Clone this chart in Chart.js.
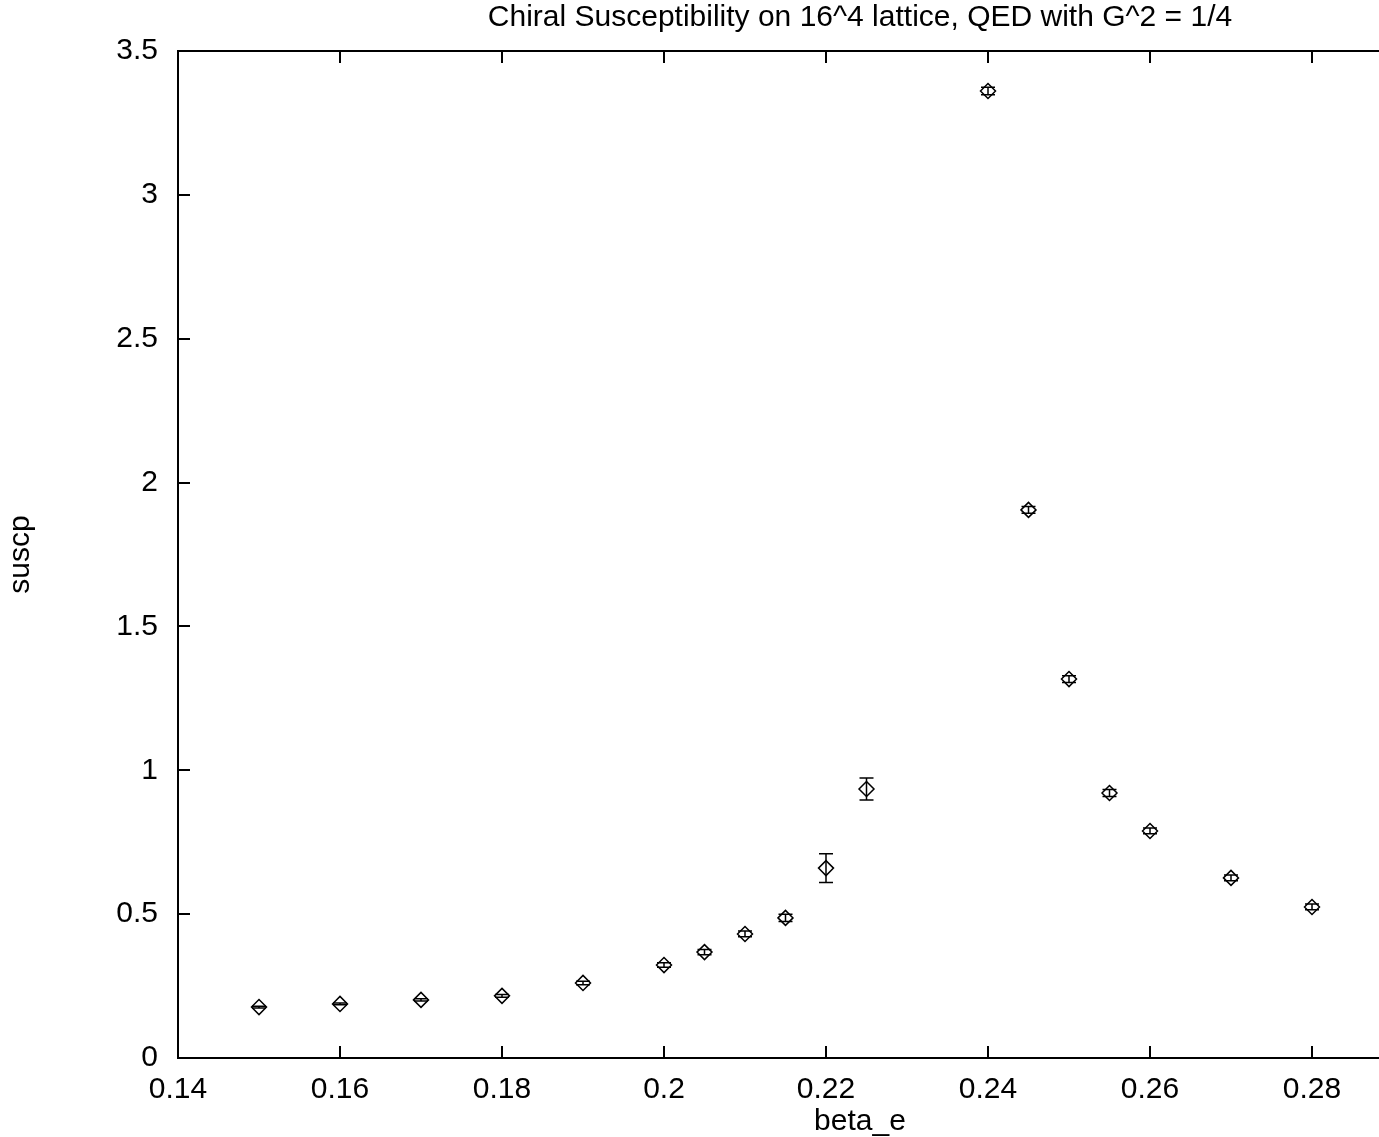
<!DOCTYPE html>
<html>
<head>
<meta charset="utf-8">
<script src="https://cdn.jsdelivr.net/npm/chart.js@4/dist/chart.umd.min.js"></script>
<style>
html,body{margin:0;padding:0;background:#fff;overflow:hidden;}
canvas{display:block;}
</style>
</head>
<body>
<canvas id="c" width="1720" height="1137" style="width:1720px;height:1137px"></canvas>
<script>
const chartTitle = 'Chiral Susceptibility on 16^4 lattice, QED with G^2 = 1/4';
const xLabel = 'beta_e';
const yLabel = 'suscp';
const betaValues  = [0.15, 0.16, 0.17, 0.18, 0.19, 0.20, 0.205, 0.21, 0.215, 0.22, 0.225, 0.24, 0.245, 0.25, 0.255, 0.26, 0.27, 0.28];
const suscpValues = [0.177, 0.188, 0.202, 0.216, 0.261, 0.323, 0.368, 0.431, 0.487, 0.660, 0.935, 3.361, 1.905, 1.317, 0.921, 0.789, 0.626, 0.525];
const suscpErrors = [0.003, 0.003, 0.004, 0.005, 0.006, 0.008, 0.009, 0.010, 0.013, 0.050, 0.038, 0.013, 0.012, 0.012, 0.012, 0.010, 0.010, 0.010];
const xMin = 0.14, xMax = 0.29, xStep = 0.02;
const yMin = 0, yMax = 3.5, yStep = 0.5;

const FONT = {family: '"Liberation Sans", Arial, Helvetica, sans-serif', size: 30, weight: 'normal', lineHeight: 1.2};
const XLABEL_FONT = {family: '"Liberation Sans", Arial, Helvetica, sans-serif', size: 30, weight: 'normal', lineHeight: 1.0};
const TICK_LEN = 12;
const fmt = v => String(Number(v.toFixed(4)));

const framePlugin = {
  id: 'frameTicksErrors',
  afterDatasetsDraw(chart) {
    const ctx = chart.ctx;
    const a = chart.chartArea;
    const xs = chart.scales.x, ys = chart.scales.y;
    ctx.save();
    ctx.strokeStyle = '#000';
    // error bars
    ctx.lineWidth = 1.5;
    for (let i = 0; i < betaValues.length; i++) {
      const px = xs.getPixelForValue(betaValues[i]);
      const y1 = ys.getPixelForValue(suscpValues[i] - suscpErrors[i]);
      const y2 = ys.getPixelForValue(suscpValues[i] + suscpErrors[i]);
      ctx.beginPath();
      ctx.moveTo(px, y1); ctx.lineTo(px, y2);
      ctx.moveTo(px - 7, y1); ctx.lineTo(px + 7, y1);
      ctx.moveTo(px - 7, y2); ctx.lineTo(px + 7, y2);
      ctx.stroke();
    }
    // frame
    ctx.lineWidth = 2;
    ctx.strokeRect(a.left, a.top, a.right - a.left, a.bottom - a.top);
    // inward ticks
    ctx.beginPath();
    xs.ticks.forEach(t => {
      const px = Math.round(xs.getPixelForValue(t.value));
      ctx.moveTo(px, a.bottom); ctx.lineTo(px, a.bottom - TICK_LEN);
      ctx.moveTo(px, a.top); ctx.lineTo(px, a.top + TICK_LEN);
    });
    ys.ticks.forEach(t => {
      const py = Math.round(ys.getPixelForValue(t.value));
      ctx.moveTo(a.left, py); ctx.lineTo(a.left + TICK_LEN, py);
      ctx.moveTo(a.right, py); ctx.lineTo(a.right - TICK_LEN, py);
    });
    ctx.stroke();
    ctx.restore();
  }
};

new Chart(document.getElementById('c'), {
  type: 'scatter',
  data: {
    datasets: [{
      data: betaValues.map((b, i) => ({x: b, y: suscpValues[i]})),
      pointStyle: 'rectRot',
      radius: 7.5,
      hoverRadius: 7.5,
      borderColor: '#000',
      backgroundColor: 'rgba(0,0,0,0)',
      borderWidth: 1.5,
      showLine: false
    }]
  },
  options: {
    responsive: false,
    animation: false,
    devicePixelRatio: 1,
    layout: {padding: 0},
    plugins: {
      legend: {display: false},
      tooltip: {enabled: false},
      title: {
        display: true, text: chartTitle, color: '#000', font: FONT,
        padding: {top: 0, bottom: 15}
      },
      subtitle: {
        display: true, position: 'bottom', text: xLabel, color: '#000', font: XLABEL_FONT,
        padding: {top: 0, bottom: 0}
      }
    },
    scales: {
      x: {
        type: 'linear', min: xMin, max: xMax,
        ticks: {stepSize: xStep, includeBounds: false, color: '#000', font: FONT, padding: 14, maxRotation: 0, autoSkip: false, callback: fmt},
        grid: {display: false, drawTicks: false},
        border: {display: false},
        afterFit(s) { s.height = 49; }
      },
      y: {
        type: 'linear', min: yMin, max: yMax,
        ticks: {stepSize: yStep, color: '#000', font: FONT, padding: 20, callback: fmt},
        grid: {display: false, drawTicks: false},
        border: {display: false},
        title: {display: true, text: yLabel, color: '#000', font: FONT, padding: {top: 3, bottom: 0}},
        afterFit(s) { s.width = 178; }
      },
      y2: {
        type: 'linear', position: 'right', display: true, min: 0, max: 1,
        ticks: {display: false},
        grid: {display: false, drawTicks: false},
        border: {display: false},
        afterFit(s) { s.width = 327; }
      }
    }
  },
  plugins: [framePlugin]
});
</script>
</body>
</html>
